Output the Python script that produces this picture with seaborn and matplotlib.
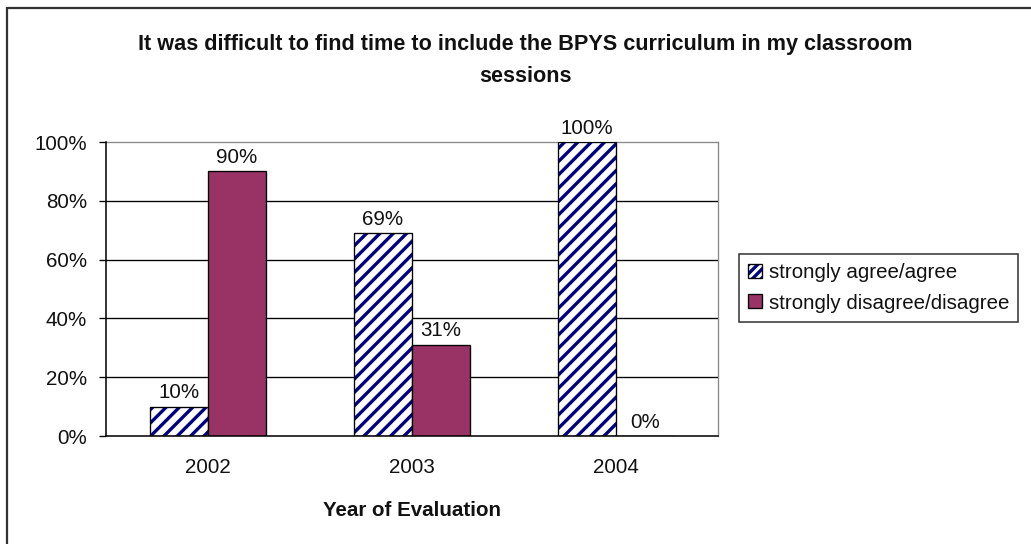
import matplotlib
matplotlib.use("Agg")
import matplotlib.pyplot as plt
import matplotlib.colors as mcolors
from matplotlib.patches import Patch, Rectangle
from matplotlib.ticker import FixedLocator
import seaborn as sns
import pandas as pd

# ---- data ----
years = ["2002", "2003", "2004"]
series_names = ["strongly agree/agree", "strongly disagree/disagree"]
agree = [10, 69, 100]
disagree = [90, 31, 0]
ytick_values = [0, 20, 40, 60, 80, 100]
ytick_labels = ["0%", "20%", "40%", "60%", "80%", "100%"]
title = "It was difficult to find time to include the BPYS curriculum in my classroom\nsessions"
xlabel = "Year of Evaluation"

AGREE_HATCH = "#000080"
DISAGREE = "#993366"

df = pd.DataFrame({
    "year": years * 2,
    "series": [series_names[0]] * len(years) + [series_names[1]] * len(years),
    "value": agree + disagree,
})

sns.set_theme(style="white")
plt.rcParams["font.family"] = ["Liberation Sans", "DejaVu Sans"]
plt.rcParams["hatch.linewidth"] = 3.0

FS = 18.5
DPI = 80
fig = plt.figure(figsize=(1031 / DPI, 544 / DPI), dpi=DPI)
W, H = 1031, 544
L, R, T, B = 106, 718, 142, 436
ax = fig.add_axes([L / W, 1 - B / H, (R - L) / W, (B - T) / H])

sns.barplot(data=df, x="year", y="value", hue="series", order=years,
            hue_order=series_names,
            palette={series_names[0]: "white", series_names[1]: DISAGREE},
            width=0.57, dodge=True, ax=ax, legend=False, saturation=1,
            edgecolor="black", linewidth=1.2, zorder=3)

# hatch the first series
for cont_i, cont in enumerate(ax.containers):
    for p in cont:
        if cont_i == 0:
            p.set_hatch("//")
            p.set_edgecolor("black")
            p._hatch_color = mcolors.to_rgba(AGREE_HATCH)
    ax.bar_label(cont, labels=[f"{v:.0f}%" for v in cont.datavalues],
                 padding=4, fontsize=FS, color="#111111")

ax.set_ylim(0, 100)
ax.set_xlim(-0.5, len(years) - 0.5)
ax.set_yticks(ytick_values)
ax.set_yticklabels(ytick_labels, fontsize=FS, color="#111111")
ax.set_xticks(range(len(years)))
ax.set_xticklabels(years, fontsize=FS, color="#111111")
ax.xaxis.set_minor_locator(FixedLocator([i - 0.5 for i in range(len(years) + 1)]))
ax.tick_params(axis="x", which="major", length=0, pad=20)
ax.tick_params(axis="x", which="minor", length=6, width=1.2, color="black", direction="out")
ax.tick_params(axis="y", which="major", length=6, width=1.2, color="black", direction="out", pad=11, left=True)

ax.set_xlabel(xlabel, fontsize=FS, fontweight="bold", labelpad=21, color="#111111")
ax.set_ylabel("")

ax.grid(False)
for yv in ytick_values[1:-1]:
    ax.axhline(yv, color="black", linewidth=1.2, zorder=1)

for side in ["top", "right"]:
    ax.spines[side].set_visible(True)
    ax.spines[side].set_color("#8a8a8a")
    ax.spines[side].set_linewidth(1.2)
for side in ["left", "bottom"]:
    ax.spines[side].set_color("black")
    ax.spines[side].set_linewidth(1.4)
    ax.spines[side].set_zorder(4)

fig.text(525 / W, 1 - 34 / H, title, ha="center", va="top", fontsize=19.5,
         fontweight="bold", linespacing=1.7, color="#111111")

h_agree = Patch(facecolor="white", edgecolor="black", hatch="///", linewidth=1.2)
h_agree._hatch_color = mcolors.to_rgba(AGREE_HATCH)
h_dis = Patch(facecolor=DISAGREE, edgecolor="black", linewidth=1.2)
leg = fig.legend([h_agree, h_dis], series_names,
                 loc="upper left", bbox_to_anchor=(739 / W, 1 - 254 / H),
                 bbox_transform=fig.transFigure,
                 fontsize=FS, frameon=True, fancybox=False, shadow=False,
                 handlelength=0.65, handleheight=0.65, handletextpad=0.35,
                 labelspacing=0.55, borderpad=0.45, borderaxespad=0)
leg.get_frame().set_edgecolor("black")
leg.get_frame().set_linewidth(1.4)
leg.get_frame().set_facecolor("white")
for t in leg.get_texts():
    t.set_color("#111111")

# outer chart border
fig.patches.append(Rectangle((7 / W, -0.1), 1.2, 1 - 8 / H + 0.1,
                             transform=fig.transFigure, fill=False,
                             edgecolor="#333333", linewidth=2, zorder=0))

fig.savefig("out.png", dpi=DPI, facecolor="white")
